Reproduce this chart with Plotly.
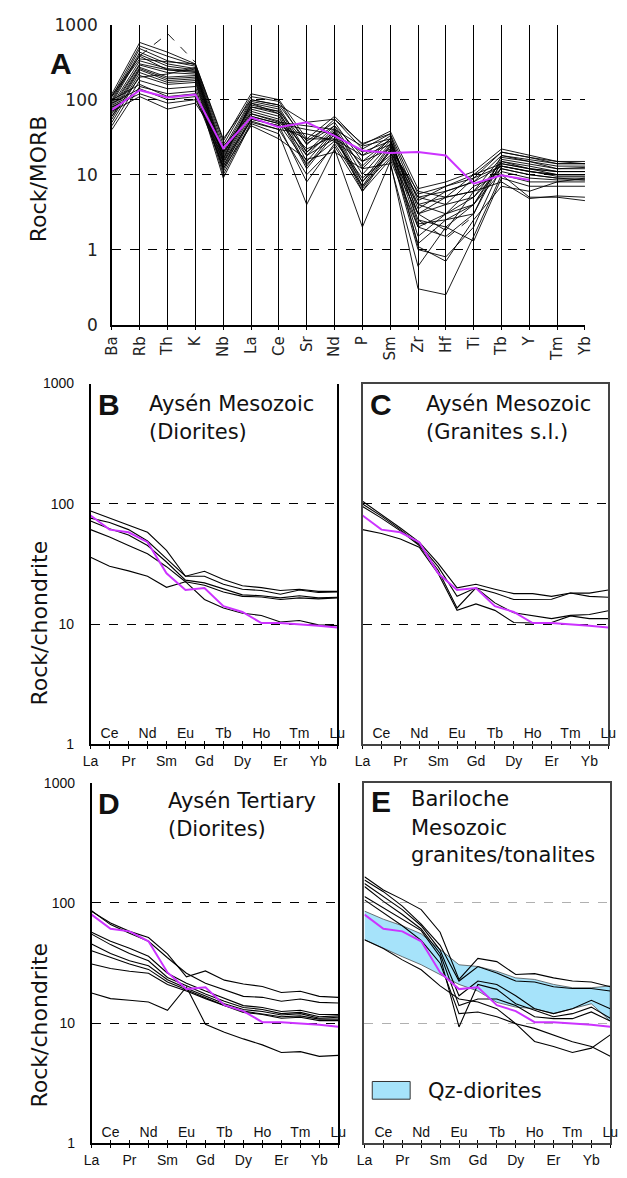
import plotly.graph_objects as go

W, H = 627, 1178

# ---------------- data ----------------
SPIDER = ["Ba", "Rb", "Th", "K", "Nb", "La", "Ce", "Sr", "Nd", "P", "Sm",
          "Zr", "Hf", "Ti", "Tb", "Y", "Tm", "Yb"]
REE = ["La", "Ce", "Pr", "Nd", "Sm", "Eu", "Gd", "Tb", "Dy", "Ho", "Er",
       "Tm", "Yb", "Lu"]

# Panel A: Rock/MORB spider diagram samples
A_SAMPLES = [
    [120, 580, 430, 300, 28, 120, 100, 30, 60, 25, 38, 6.5, 8, 11, 22, 18, 15, 15],
    [110, 520, 380, 290, 25, 110, 95, 25, 55, 22, 35, 5.5, 7, 9, 20, 17, 14, 14],
    [100, 480, 330, 280, 22, 100, 85, 28, 50, 15, 30, 3.5, 6, 8, 18, 15, 13, 13],
    [95, 430, 300, 260, 20, 95, 80, 20, 45, 12, 28, 3, 5, 6, 17, 15, 12, 12.5],
    [90, 400, 280, 250, 18, 90, 75, 18, 42, 10, 26, 2.5, 2, 4, 16, 14, 12, 12],
    [85, 330, 260, 240, 17, 85, 70, 15, 40, 8, 25, 2, 1.5, 3, 15, 13, 11, 11],
    [80, 300, 250, 230, 16, 80, 65, 13, 38, 7, 24, 1.5, 3, 5, 15, 12, 11, 11],
    [75, 290, 230, 220, 15, 75, 60, 12, 35, 6.5, 22, 1.2, 2.5, 4, 14, 12, 10, 10],
    [70, 270, 200, 210, 14, 70, 55, 22, 33, 6, 21, 1.0, 0.8, 2, 13, 11, 10, 10],
    [65, 260, 190, 200, 13, 65, 52, 18, 30, 8, 20, 5, 6, 8, 13, 11, 9.5, 9.5],
    [60, 250, 180, 190, 12, 60, 48, 14, 28, 9, 18, 4, 5, 6, 12, 10, 9, 9],
    [55, 230, 170, 180, 11, 55, 45, 8, 26, 7, 17, 3, 4, 5, 12, 10, 9, 8.5],
    [50, 210, 160, 170, 10, 50, 40, 10, 24, 6, 16, 2, 3, 4, 11, 9, 8.5, 8.5],
    [45, 180, 140, 150, 9, 48, 35, 4, 22, 2, 15, 0.3, 0.25, 1.5, 10, 8, 8, 8],
    [40, 150, 120, 130, 12, 45, 30, 16, 20, 12, 14, 0.6, 2, 1.3, 9, 7, 7, 7],
    [100, 160, 110, 120, 15, 52, 40, 35, 28, 15, 22, 6, 5, 10, 14, 12, 11, 11],
    [90, 140, 100, 110, 13, 55, 45, 30, 30, 18, 25, 5, 4, 9, 13, 11, 10, 10],
    [80, 120, 90, 100, 20, 60, 48, 40, 35, 20, 28, 4, 3, 7, 10, 5, 5, 4.5],
    [70, 110, 75, 90, 24, 65, 50, 45, 40, 24, 30, 3, 1.8, 6, 8, 4.8, 5.2, 5],
    [110, 350, 320, 300, 30, 100, 85, 50, 55, 26, 35, 2.2, 2.5, 3, 18, 16, 14, 14],
    [60, 200, 220, 270, 19, 80, 70, 26, 45, 18, 33, 4.5, 7, 10, 20, 17, 15, 14],
    [115, 380, 250, 240, 16, 90, 65, 20, 37, 13, 30, 1.1, 0.7, 2.5, 7, 6, 8, 9],
]
A_DASHED = [
    [None, 385, 760, 315, None, None, None, None, None, None, None, None, None, None, None, None, None, None],
    [None, None, None, None, None, None, None, None, None, None, None, 2.5, 1.4, 2.8, None, None, None, None],
]
A_REF = [73, 134, 107, 117, 22.5, 58, 43, 50, 33, 21, 19.4, 20, 18, 7.6, 9.8, 8.5, None, None]

# Reference (magenta) REE pattern, same in panels B-E
REF_REE = [80, 61, 58, 48, 26.4, 19.2, 19.9, 14.1, 12.6, 10.2, 10.2, 10.0, 9.7, 9.35]

B_SAMPLES = [
    [87, 76, 67, 58, 41, 25, 27.5, 23.5, 20.8, 20.1, 19, 19.5, 18.7, 18.7],
    [76, 70, 61, 49, 35, 25, 25, 21.4, 19.5, 19, 17.7, 19.2, 18.3, 18.5],
    [61, 53, 45, 38.4, 30, 22.5, 16, 13.6, 12.3, 11.8, 10.4, 10.7, 9.85, 9.7],
    [72, 62, 55, 45, 32.8, 23.2, 22, 19.5, 17.5, 17.2, 16.5, 17.2, 16.5, 16.7],
    [36, 30.2, 27.7, 25, 20.2, 22.5, 21, 18.5, 17, 16.8, 16, 16.5, 16.2, 16.5],
]

C_SAMPLES = [
    [105, 82, 63, 48, 32, 20, 21.4, 19.5, 17.9, 17.9, 17, 18.1, 18.1, 19.2],
    [99.5, 79, 61, 46, 30, 17, 20, 18.1, 16, 16.1, 16.1, 18.1, 17, 16.7],
    [95, 76, 59.5, 45, 28, 13.6, 20, 15, 12.4, 11.7, 11.1, 11.8, 12, 12.9],
    [61, 56.6, 51, 43.5, 26.3, 13, 14.7, 13, 10.3, 10.2, 10.3, 11.7, 11.1, 11.1],
]

D_SAMPLES = [
    [85, 68, 58, 51.5, 37.7, 24.3, 27.2, 22.8, 21.2, 20.2, 18, 18.4, 16.7, 16.4],
    [86, 66, 56, 48, 35, 26, 21.5, 18.9, 16.7, 16.4, 15.2, 15.9, 14.9, 14.7],
    [57, 48, 42, 36, 26, 21.5, 18.5, 16, 14, 13.5, 12.5, 12.8, 11.8, 11.8],
    [55, 45, 38, 33, 24, 20.5, 17.5, 15.2, 13.5, 13, 12, 12.3, 11.3, 11.5],
    [45.5, 38, 33, 30, 23, 19.5, 16.8, 14.5, 13, 12.5, 11.7, 12, 11, 11.2],
    [40, 35, 31, 28, 22, 19, 16.2, 14, 12.6, 12, 11.3, 11.5, 10.8, 10.8],
    [31, 28.5, 27, 26, 21, 18.5, 16, 14, 12.3, 11.8, 11, 11.2, 10.5, 10.5],
    [17.8, 16, 15.5, 15, 12.8, 20, 9.8, 8.4, 7.4, 6.6, 5.7, 5.8, 5.3, 5.4],
]

E_SAMPLES = [
    [165, 128, 107, 88, 57, 23.1, 34.6, 32.5, 25.4, 25.8, 23.8, 22.4, 22, 20.1],
    [155, 124, 94, 66.7, 44.4, 22.4, 29.6, 26.1, 22.4, 22, 20.1, 19.4, 19.4, 18.5],
    [145, 113, 88, 64.6, 40.5, 16.9, 22.4, 21, 16.9, 13.2, 12, 13.2, 15.5, 13.2],
    [137, 103, 80, 60.7, 38, 14, 15.9, 15.9, 14, 11.3, 10.9, 10.9, 12.4, 10.4],
    [113, 91, 73, 58.8, 35.7, 9.3, 21, 19.1, 14.5, 12.8, 11.3, 12, 13.6, 11],
    [106, 83, 64.6, 48.8, 31.5, 12, 12.4, 11.3, 9.9, 9.05, 8, 7, 6.4, 5.3],
    [49.4, 41.8, 33.6, 27.8, 20.4, 15.9, 15, 13.2, 9.9, 7.05, 6.4, 5.7, 6.2, 8],
]
E_BAND_UPPER = [85.5, 73.2, 64.6, 55.3, 41, 30.6, 29.6, 27, 23.8, 23.1, 21, 19.7, 19.7, 20.4]
E_BAND_LOWER = [49.4, 41.8, 35.7, 30.6, 25.4, 21, 18.5, 14.9, 13.6, 13.2, 12, 13.2, 14.5, 10.4]
E_LEGEND_LABEL = "Qz-diorites"

A_YTICKS = [0.1, 1, 10, 100, 1000]
A_YTEXT = ["0", "1", "10", "100", "1000"]
REE_YTICKS = [1, 10, 100, 1000]
REE_YTEXT = ["1", "10", "100", "1000"]

# ---------------- styling ----------------
MAGENTA = "#cc33ff"
BAND = "#a6e3fa"
FONT_T = "DejaVu Sans"
FONT_N = "Liberation Sans"

fig = go.Figure()


def line_trace(x, y, xa, ya, color="black", width=1, dash=None):
    return go.Scatter(x=x, y=y, xaxis=xa, yaxis=ya, mode="lines",
                      line=dict(color=color, width=width, dash=dash),
                      showlegend=False, hoverinfo="skip", connectgaps=False)


# Panel A
for s in A_SAMPLES:
    fig.add_trace(line_trace(SPIDER, s, "x", "y", width=0.9))
for s in A_DASHED:
    fig.add_trace(line_trace(SPIDER, s, "x", "y", width=0.9, dash="dash"))
fig.add_trace(line_trace(SPIDER, A_REF, "x", "y", color=MAGENTA, width=2))

# Panel E band first (under lines)
fig.add_trace(go.Scatter(x=REE + REE[::-1], y=E_BAND_UPPER + E_BAND_LOWER[::-1],
                         xaxis="x5", yaxis="y5", mode="lines", fill="toself",
                         fillcolor=BAND, line=dict(color="#3a3a3a", width=0.7),
                         name=E_LEGEND_LABEL, showlegend=False, hoverinfo="skip"))

panels = [("x2", "y2", B_SAMPLES), ("x3", "y3", C_SAMPLES),
          ("x4", "y4", D_SAMPLES), ("x5", "y5", E_SAMPLES)]
for xa, ya, samples in panels:
    for s in samples:
        fig.add_trace(line_trace(REE, s, xa, ya, width=1.1))
    fig.add_trace(line_trace(REE, REF_REE, xa, ya, color=MAGENTA, width=2))

# dummy traces for overlay axes carrying inside ticks/labels
for i, ya in zip([6, 7, 8, 9], ["y2", "y3", "y4", "y5"]):
    fig.add_trace(go.Scatter(x=REE, y=[None] * len(REE), xaxis=f"x{i}", yaxis=ya,
                             mode="lines", showlegend=False, hoverinfo="skip"))


def dx(a, b):
    return [a / W, b / W]


def dy(top, bottom):
    return [1 - bottom / H, 1 - top / H]


layout = dict(
    width=W, height=H, margin=dict(l=0, r=0, t=0, b=0),
    paper_bgcolor="white", plot_bgcolor="white",
    showlegend=False,
)

# Panel A axes
layout["xaxis"] = dict(domain=dx(106, 593), anchor="y", type="category",
                       categoryarray=SPIDER, categoryorder="array", range=[0, 17],
                       showgrid=True, gridcolor="black", gridwidth=1,
                       showline=True, linecolor="black", linewidth=1.5,
                       ticks="outside", ticklen=4, tickcolor="black",
                       tickangle=-90, tickfont=dict(family=FONT_T, size=15, color="#222"),
                       zeroline=False)
layout["yaxis"] = dict(domain=dy(15, 320), anchor="x", type="log", range=[-1, 3],
                       tickmode="array", tickvals=A_YTICKS, ticktext=A_YTEXT,
                       showgrid=True, gridcolor="black", griddash="dash", gridwidth=1,
                       showline=True, linecolor="black", linewidth=1.5,
                       ticks="outside", ticklen=9, tickcolor="rgba(0,0,0,0)",
                       tickfont=dict(family=FONT_T, size=17, color="#222"),
                       zeroline=False)

panel_geo = {
    2: (84, 338, 380, 747, "black", "black", True),
    3: (364, 617, 380, 747, "#444", "black", False),
    4: (85, 339, 786, 1153, "black", "black", True),
    5: (366, 619, 786, 1153, "#444", "#b0b0b0", False),
}
for i, (xl, xr, yt, yb, bcol, gcol, labels) in panel_geo.items():
    even = [t if k % 2 == 0 else "" for k, t in enumerate(REE)]
    odd = [t if k % 2 == 1 else "" for k, t in enumerate(REE)]
    layout[f"xaxis{i}"] = dict(domain=dx(xl, xr), anchor=f"y{i}", type="category",
                               categoryarray=REE, categoryorder="array", range=[0, 13],
                               showgrid=False, showline=True, linecolor=bcol, linewidth=1.5,
                               mirror=(bcol != "black"),
                               tickmode="array", tickvals=REE, ticktext=even,
                               ticks="outside", ticklen=3, tickcolor="black", tickwidth=1,
                               tickfont=dict(family=FONT_N, size=14, color="#111"),
                               zeroline=False)
    layout[f"xaxis{i + 4}"] = dict(overlaying=f"x{i}", anchor=f"y{i}", type="category",
                                   categoryarray=REE, categoryorder="array", range=[0, 13],
                                   showgrid=False, showline=False,
                                   tickmode="array", tickvals=REE, ticktext=odd,
                                   ticks="inside", ticklen=3, tickcolor="black", tickwidth=1,
                                   ticklabelposition="inside", ticklabeloverflow="allow",
                                   tickfont=dict(family=FONT_N, size=14, color="#111"),
                                   zeroline=False)
    layout[f"yaxis{i}"] = dict(domain=dy(yt, yb), anchor=f"x{i}", type="log", range=[0, 3],
                               tickmode="array", tickvals=REE_YTICKS,
                               ticktext=REE_YTEXT if labels else [""] * 4,
                               showgrid=True, gridcolor=gcol, griddash="dash", gridwidth=1,
                               showline=True, linecolor=bcol, linewidth=1.5, mirror=True,
                               ticks="outside", ticklen=12, tickcolor="rgba(0,0,0,0)",
                               tickfont=dict(family=FONT_N, size=14, color="#111"),
                               zeroline=False)

# legend key for the Qz-diorite field in panel E
layout["shapes"] = [dict(type="rect", xref="paper", yref="paper",
                         x0=374 / W, x1=413 / W, y0=1 - 1108 / H, y1=1 - 1090 / H,
                         fillcolor=BAND, line=dict(color="#333", width=1))]

fig.update_layout(**layout)


def ann(text, x, y, size, bold=False, angle=0, xanchor="center", family=FONT_T):
    fig.add_annotation(text=f"<b>{text}</b>" if bold else text,
                       x=x / W, y=1 - y / H, xref="paper", yref="paper",
                       showarrow=False, xanchor=xanchor, yanchor="middle",
                       textangle=angle,
                       font=dict(family=family if not bold else "Liberation Sans",
                                 size=size, color="#111"))


ann("A", 54, 54, 30, bold=True)
ann("Rock/MORB", 30, 172, 22, angle=-90)
ann("Rock/chondrite", 31, 624, 22, angle=-90)
ann("Rock/chondrite", 31, 1033, 22, angle=-90)

ann("B", 103, 401, 30, bold=True)
ann("Aysén Mesozoic", 142, 401, 21, xanchor="left")
ann("(Diorites)", 142, 429, 21, xanchor="left")

ann("C", 383, 401, 30, bold=True)
ann("Aysén Mesozoic", 427, 401, 21, xanchor="left")
ann("(Granites s.l.)", 427, 429, 21, xanchor="left")

ann("D", 103, 807, 30, bold=True)
ann("Aysén Tertiary", 162, 805, 21, xanchor="left")
ann("(Diorites)", 162, 833, 21, xanchor="left")

ann("E", 383, 805, 30, bold=True)
ann("Bariloche", 412, 803, 21, xanchor="left")
ann("Mesozoic", 412, 832, 21, xanchor="left")
ann("granites/tonalites", 412, 860, 21, xanchor="left")
ann(E_LEGEND_LABEL, 429, 1100, 21, xanchor="left")

fig.write_html("out.html", config={"displayModeBar": False},
               post_script="document.body.style.margin='0';document.body.style.overflow='hidden';")
